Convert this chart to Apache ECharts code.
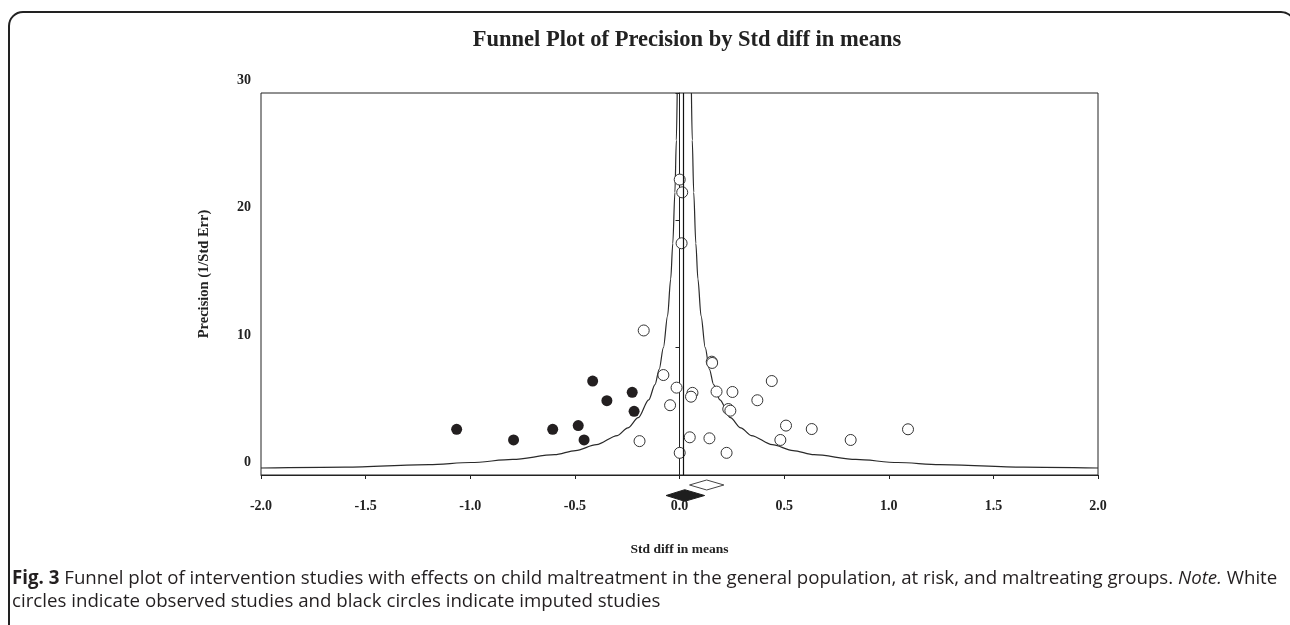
<!DOCTYPE html>
<html>
<head>
<meta charset="utf-8">
<title>Funnel Plot of Precision by Std diff in means</title>
<script src="https://cdn.jsdelivr.net/npm/echarts@6/dist/echarts.min.js"></script>
<style>
  html, body { margin: 0; padding: 0; background: #fff; }
  #chart { width: 1290px; height: 625px; }
</style>
</head>
<body>
<div id="chart"></div>
<script>
// observed studies (white circles): [std diff in means, precision]
const observed = [
  [0.001, 23.2], [0.013, 22.2], [0.010, 18.2], [-0.171, 11.35],
  [-0.077, 7.85], [-0.014, 6.86], [-0.045, 5.48], [0.062, 6.45],
  [0.055, 6.15], [-0.191, 2.66], [0.001, 1.74], [0.049, 2.96],
  [0.143, 2.88], [0.225, 1.74], [0.154, 8.9], [0.156, 8.8],
  [0.177, 6.55], [0.253, 6.52], [0.233, 5.18], [0.243, 5.05],
  [0.372, 5.87], [0.441, 7.38], [0.509, 3.88], [0.482, 2.75],
  [0.632, 3.61], [0.818, 2.75], [1.092, 3.59]
]

// imputed studies (black circles)
const imputed = [
  [-1.065, 3.59], [-0.793, 2.75], [-0.606, 3.59], [-0.484, 3.88],
  [-0.456, 2.75], [-0.415, 7.38], [-0.347, 5.84], [-0.226, 6.49],
  [-0.217, 5.0]
]

// funnel limits
const funnelLeft = [
  [-2.0, 0.55], [-1.597, 0.62], [-1.197, 0.82], [-0.997, 0.98],
  [-0.797, 1.22], [-0.597, 1.6], [-0.497, 1.92], [-0.397, 2.38],
  [-0.297, 3.1], [-0.247, 3.7], [-0.197, 4.5], [-0.147, 5.9],
  [-0.117, 7.1], [-0.097, 8.3], [-0.077, 10], [-0.057, 12.5],
  [-0.042, 15.4], [-0.032, 18.2], [-0.022, 22.2], [-0.015, 26.3],
  [-0.011, 30]
]
const funnelRight = [
  [0.057, 30], [0.061, 26.3], [0.068, 22.2], [0.078, 18.2],
  [0.088, 15.4], [0.103, 12.5], [0.123, 10], [0.143, 8.3],
  [0.163, 7.1], [0.193, 5.9], [0.243, 4.5], [0.293, 3.7],
  [0.343, 3.1], [0.443, 2.38], [0.543, 1.92], [0.643, 1.6],
  [0.843, 1.22], [1.043, 0.98], [1.243, 0.82], [1.643, 0.62],
  [2.0, 0.55]
]

const meanEffect = 0.023

// summary diamonds: observed (white) and adjusted (black)
const diamondNames = ['Observed', 'Imputed']
const diamondLow = [0.048, -0.064]
const diamondEst = [0.13, 0.025]
const diamondHigh = [0.212, 0.12]
const diamondLevel = [-0.785, -1.61]

const xTicks = { min: -2, max: 2, step: 0.5 }
const yTicks = { min: 0, max: 30, step: 10 }

const serif = '"Liberation Serif", "Times New Roman", serif'
const sans = '"Open Sans", sans-serif'
const ink = '#222'

const chart = echarts.init(document.getElementById('chart'))

const diamondData = diamondNames.map((n, i) => [diamondLow[i], diamondEst[i], diamondHigh[i], diamondLevel[i]])

chart.setOption({
  animation: false,
  title: {
    text: 'Funnel Plot of Precision by Std diff in means',
    left: 682,
    top: 24,
    textAlign: 'center',
    textStyle: { fontFamily: serif, fontWeight: 'bold', fontSize: 22.5, color: ink },
  },
  grid: {
    left: 261,
    top: 93,
    width: 837,
    height: 382,
    show: true,
    borderColor: ink,
    borderWidth: 1,
    outerBoundsMode: 'none',
  },
  xAxis: {
    type: 'value',
    min: xTicks.min,
    max: xTicks.max,
    interval: xTicks.step,
    name: 'Std diff in means',
    nameLocation: 'middle',
    nameGap: 68,
    nameTextStyle: { fontFamily: serif, fontWeight: 'bold', fontSize: 13.5, color: ink },
    axisLine: { lineStyle: { color: ink, width: 1 } },
    axisTick: { length: 4, lineStyle: { color: ink } },
    splitLine: { show: false },
    axisLabel: {
      margin: 24,
      fontFamily: serif,
      fontWeight: 'bold',
      fontSize: 14,
      color: ink,
      formatter: (v) => v.toFixed(1),
    },
  },
  yAxis: {
    type: 'value',
    min: yTicks.min,
    max: yTicks.max,
    interval: yTicks.step,
    name: 'Precision (1/Std Err)',
    nameLocation: 'middle',
    nameGap: 49,
    nameRotate: 90,
    nameTextStyle: {
      fontFamily: serif, fontWeight: 'bold', fontSize: 14.5, color: ink,
      padding: [0, 0, 0, 20],
    },
    axisLine: { lineStyle: { color: ink, width: 1 } },
    axisTick: { length: 4, lineStyle: { color: ink } },
    splitLine: { show: false },
    axisLabel: {
      margin: 10,
      fontFamily: serif,
      fontWeight: 'bold',
      fontSize: 14,
      color: ink,
      verticalAlign: 'bottom',
      lineHeight: 25,
    },
  },
  series: [
    {
      type: 'line',
      data: funnelLeft,
      smooth: 0.3,
      smoothMonotone: 'x',
      showSymbol: false,
      silent: true,
      lineStyle: { color: '#2a2a2a', width: 1.2 },
    },
    {
      type: 'line',
      data: funnelRight,
      smooth: 0.3,
      smoothMonotone: 'x',
      showSymbol: false,
      silent: true,
      lineStyle: { color: '#2a2a2a', width: 1.2 },
    },
    {
      name: 'Observed',
      type: 'scatter',
      data: observed,
      symbol: 'circle',
      symbolSize: 11,
      itemStyle: { color: '#fff', borderColor: '#333', borderWidth: 1, opacity: 1 },
      markLine: {
        silent: true,
        symbol: 'none',
        label: { show: false },
        lineStyle: { type: 'solid', color: '#111', width: 1.2 },
        data: [{ xAxis: meanEffect }],
      },
      z: 3,
    },
    {
      name: 'Imputed',
      type: 'scatter',
      data: imputed,
      symbol: 'circle',
      symbolSize: 11,
      itemStyle: { color: '#231f20', opacity: 1 },
      z: 3,
    },
    {
      type: 'custom',
      data: diamondData,
      clip: false,
      silent: true,
      renderItem: (params, api) => {
        const half = params.dataIndex === 0 ? 5 : 5.8
        const y = api.coord([0, api.value(3)])[1]
        const lo = api.coord([api.value(0), 0])[0]
        const mid = api.coord([api.value(1), 0])[0]
        const hi = api.coord([api.value(2), 0])[0]
        const filled = params.dataIndex === 1
        return {
          type: 'polygon',
          shape: { points: [[lo, y], [mid, y - half], [hi, y], [mid, y + half]] },
          style: {
            fill: filled ? '#1e1e1e' : '#fff',
            stroke: filled ? '#1e1e1e' : '#444',
            lineWidth: 1,
          },
        }
      },
    },
  ],
  graphic: [
    {
      type: 'rect',
      silent: true,
      shape: { x: 9, y: 12, width: 1286, height: 700, r: 14 },
      style: { fill: 'none', stroke: '#222', lineWidth: 2 },
    },
    {
      type: 'text',
      left: 12,
      top: 569,
      silent: true,
      style: {
        text: '{b|Fig. 3} Funnel plot of intervention studies with effects on child maltreatment in the general population, at risk, and maltreating groups. {i|Note.} White',
        font: '18.7px ' + sans,
        fill: '#231f20',
        rich: {
          b: { fontWeight: 'bold', fontSize: 18.7, fontFamily: sans, fill: '#231f20' },
          i: { fontStyle: 'italic', fontSize: 18.7, fontFamily: sans, fill: '#231f20' },
        },
      },
    },
    {
      type: 'text',
      left: 12,
      top: 592,
      silent: true,
      style: {
        text: 'circles indicate observed studies and black circles indicate imputed studies',
        font: '18.7px ' + sans,
        fill: '#231f20',
      },
    },
  ],
})
</script>
</body>
</html>
